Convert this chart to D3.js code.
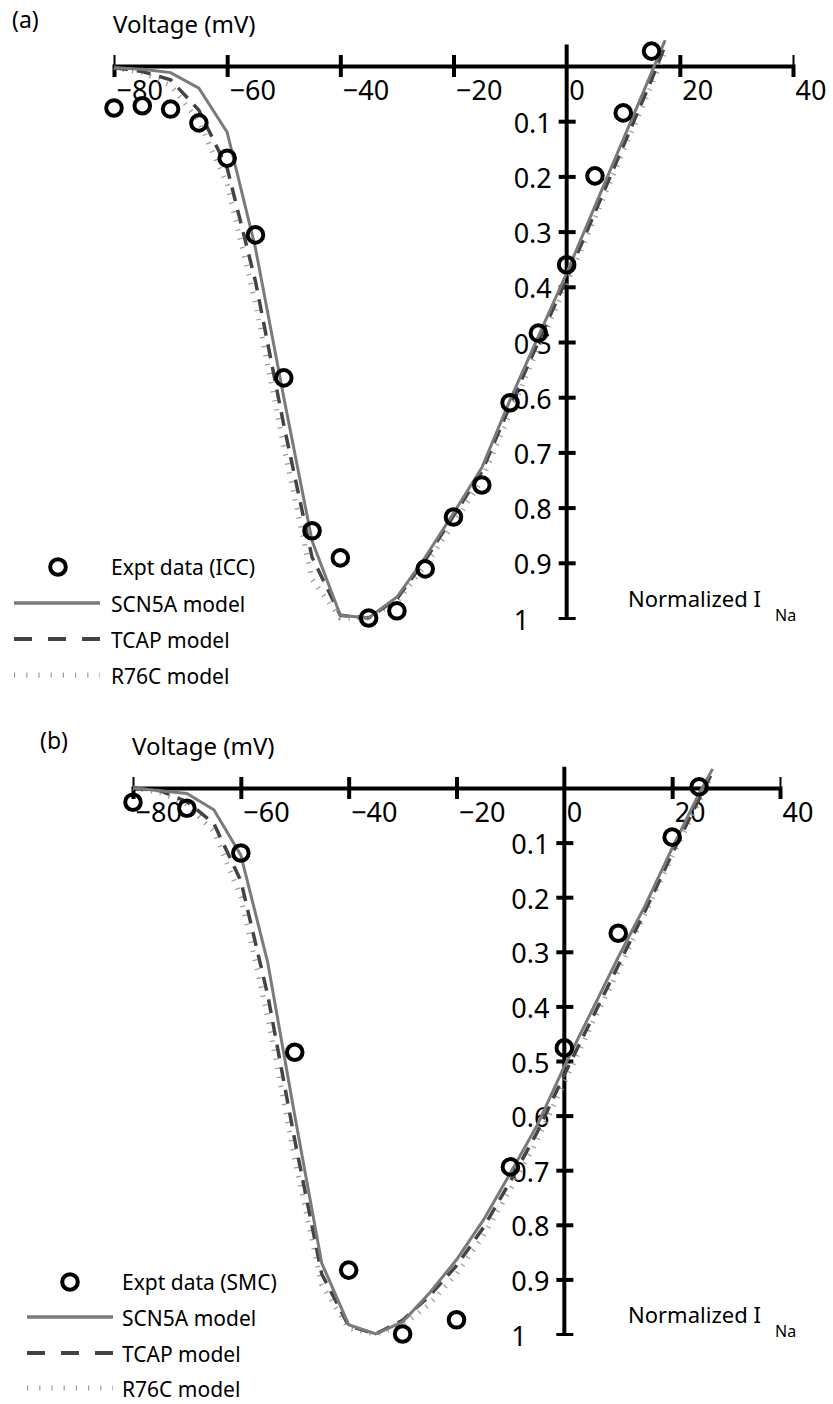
<!DOCTYPE html>
<html>
<head>
<meta charset="utf-8">
<script src="https://cdn.jsdelivr.net/npm/d3@7"></script>
<style>
  body { margin: 0; background: #fff; }
  text { font-family: "Noto Sans", sans-serif; fill: #000; }
</style>
</head>
<body>
<div id="chart"></div>
<script>
// tick values shared by both panels
var xTicks = [-80, -60, -40, -20, 0, 20, 40];
var yTicks = [0.1, 0.2, 0.3, 0.4, 0.5, 0.6, 0.7, 0.8, 0.9, 1];

// panel (a) - ICC
var voltsA = [-80, -75, -70, -65, -60, -55, -50, -45, -40, -35, -30, -25, -20, -15, -10, -5, 0, 5, 10, 15, 17.4];
var scn5aA = [0.003, 0.006, 0.012, 0.04, 0.12, 0.33, 0.6, 0.86, 0.995, 1.0, 0.962, 0.89, 0.81, 0.728, 0.605, 0.49, 0.375, 0.254, 0.133, 0.012, -0.047];
var tcapA  = [0.003, 0.01, 0.025, 0.08, 0.185, 0.39, 0.65, 0.89, 0.995, 1.0, 0.965, 0.895, 0.815, 0.735, 0.615, 0.5, 0.385, 0.265, 0.145, 0.025, -0.037];
var r76cA  = [0.003, 0.012, 0.035, 0.1, 0.215, 0.43, 0.69, 0.93, 1.0, 1.0, 0.97, 0.905, 0.83, 0.75, 0.63, 0.51, 0.395, 0.275, 0.155, 0.035, -0.027];
var exptVoltsA = [-80, -75, -70, -65, -60, -55, -50, -45, -40, -35, -30, -25, -20, -15, -10, -5, 0, 5, 10, 15];
var exptA = [0.076, 0.072, 0.078, 0.103, 0.167, 0.306, 0.565, 0.842, 0.891, 1.0, 0.987, 0.911, 0.817, 0.759, 0.61, 0.484, 0.36, 0.199, 0.085, -0.027];

// panel (b) - SMC
var voltsB = [-80, -75, -70, -65, -60, -55, -50, -45, -40, -35, -30, -25, -20, -15, -10, -5, 0, 5, 10, 15, 20, 25, 27.5];
var scn5aB = [0.0, 0.005, 0.01, 0.04, 0.123, 0.32, 0.6, 0.87, 0.983, 1.0, 0.978, 0.925, 0.864, 0.791, 0.705, 0.617, 0.51, 0.41, 0.31, 0.215, 0.11, 0.01, -0.035];
var tcapB  = [0.0, 0.005, 0.025, 0.065, 0.17, 0.38, 0.645, 0.89, 0.985, 1.0, 0.975, 0.93, 0.875, 0.805, 0.72, 0.63, 0.525, 0.425, 0.325, 0.225, 0.12, 0.02, -0.03];
var r76cB  = [0.0, 0.008, 0.03, 0.08, 0.2, 0.42, 0.68, 0.91, 0.99, 1.0, 0.985, 0.945, 0.89, 0.82, 0.735, 0.645, 0.54, 0.435, 0.335, 0.23, 0.125, 0.025, -0.025];
var exptVoltsB = [-80, -70, -60, -50, -40, -30, -20, -10, 0, 10, 20, 25];
var exptB = [0.026, 0.037, 0.119, 0.484, 0.883, 1.0, 0.974, 0.694, 0.476, 0.266, 0.09, -0.002];

var width = 833, height = 1404;

var svg = d3.select("#chart").append("svg")
    .attr("width", width)
    .attr("height", height);

svg.append("rect").attr("width", width).attr("height", height).attr("fill", "#fff");

function fmtX(d) { return d < 0 ? "\u2212" + Math.abs(d) : String(d); }
function fmtY(d) { return d === 1 ? "1" : d.toFixed(1); }

function drawPanel(p) {
    var x = d3.scaleLinear().domain([-80, 40]).range([p.x0, p.x1]);
    var y = d3.scaleLinear().domain([0, 1]).range([p.y0, p.y1]);
    var g = svg.append("g");

    // panel letter and axis titles
    g.append("text").attr("x", p.letterX).attr("y", p.letterY)
        .attr("font-size", 23).text(p.letter);
    g.append("text").attr("x", x(-80) - 1).attr("y", p.y0 - 33)
        .attr("font-size", 24).text("Voltage (mV)");

    // x axis along the top (zero current line)
    var xAxis = g.append("g")
        .attr("transform", "translate(0," + y(0) + ")")
        .call(d3.axisBottom(x).tickValues(xTicks).tickSizeOuter(0).tickSize(11).tickFormat(fmtX));
    xAxis.select(".domain").attr("stroke", "#000").attr("stroke-width", 4);
    xAxis.selectAll(".tick line")
        .attr("y1", -11).attr("y2", 11)
        .attr("stroke", "#000")
        .attr("stroke-width", function(d) { return (d === -80 || d === 40) ? 2 : 4; })
        .attr("display", function(d) { return d === 0 ? "none" : null; });
    xAxis.selectAll(".tick text")
        .attr("y", 34).attr("dy", null).attr("x", 2)
        .attr("text-anchor", "start")
        .attr("font-size", 27)
        .attr("font-family", "Noto Sans, sans-serif")
        .attr("fill", "#000");

    // y axis at 0 mV
    g.append("line")
        .attr("x1", x(0)).attr("x2", x(0))
        .attr("y1", y(-0.039)).attr("y2", y(1))
        .attr("stroke", "#000").attr("stroke-width", 4);
    var yAxis = g.append("g")
        .attr("transform", "translate(" + x(0) + ",0)")
        .call(d3.axisLeft(y).tickValues(yTicks).tickSizeOuter(0).tickSize(8).tickFormat(fmtY));
    yAxis.select(".domain").remove();
    yAxis.selectAll(".tick line")
        .attr("x1", -8).attr("x2", 9)
        .attr("stroke", "#000").attr("stroke-width", function(d) { return d === 1 ? 3 : 4; });
    yAxis.selectAll(".tick text")
        .attr("x", -53).attr("dy", null).attr("y", 11)
        .attr("text-anchor", "start")
        .attr("font-size", 27)
        .attr("font-family", "Noto Sans, sans-serif")
        .attr("fill", "#000");

    var nl = g.append("text").attr("x", 628).attr("y", y(1) - 11).attr("font-size", 22);
    nl.append("tspan").text("Normalized I");
    nl.append("tspan").attr("x", 775).attr("y", y(1) + 3).attr("font-size", 16).text("Na");

    // model curves
    var line = d3.line()
        .x(function(d) { return x(d[0]); })
        .y(function(d) { return y(d[1]); });

    var series = [
        { vals: p.r76c, color: "#999", w: 5, dash: "1.2,8" },
        { vals: p.tcap, color: "#444", w: 3.5, dash: "14,9" },
        { vals: p.scn5a, color: "#7a7a7a", w: 3, dash: null }
    ];
    series.forEach(function(s) {
        g.append("path")
            .datum(p.volts.map(function(v, i) { return [v, s.vals[i]]; }))
            .attr("d", line)
            .attr("fill", "none")
            .attr("stroke", s.color)
            .attr("stroke-width", s.w)
            .attr("stroke-dasharray", s.dash);
    });

    // experimental points
    g.selectAll(".expt")
        .data(p.exptVolts.map(function(v, i) { return [v, p.expt[i]]; }))
        .enter()
        .append("circle")
        .attr("class", "expt")
        .attr("cx", function(d) { return x(d[0]); })
        .attr("cy", function(d) { return y(d[1]); })
        .attr("r", 7.8)
        .attr("fill", "none")
        .attr("stroke", "#000")
        .attr("stroke-width", 4);

    // legend
    var L = p.legend;
    g.append("circle").attr("cx", L.cx).attr("cy", L.rows[0] - 8).attr("r", 7.8)
        .attr("fill", "none").attr("stroke", "#000").attr("stroke-width", 4);
    var labels = [p.exptLabel, "SCN5A model", "TCAP model", "R76C model"];
    labels.forEach(function(t, i) {
        g.append("text").attr("x", L.tx).attr("y", L.rows[i]).attr("font-size", 21).text(t);
    });
    var legStyles = [
        { color: "#7a7a7a", w: 3.5, dash: null },
        { color: "#444", w: 4, dash: "18,16" },
        { color: "#999", w: 5, dash: "1.2,11" }
    ];
    legStyles.forEach(function(s, i) {
        g.append("line")
            .attr("x1", L.lx0).attr("x2", L.lx1)
            .attr("y1", L.rows[i + 1] - 9).attr("y2", L.rows[i + 1] - 9)
            .attr("stroke", s.color).attr("stroke-width", s.w)
            .attr("stroke-dasharray", s.dash);
    });
}

drawPanel({
    letter: "(a)", letterX: 12, letterY: 28,
    x0: 114, x1: 793, y0: 66, y1: 618,
    volts: voltsA, scn5a: scn5aA, tcap: tcapA, r76c: r76cA,
    exptVolts: exptVoltsA, expt: exptA, exptLabel: "Expt data (ICC)",
    legend: { cx: 58, tx: 111, lx0: 14, lx1: 100, rows: [575, 612, 648, 684] }
});

drawPanel({
    letter: "(b)", letterX: 40, letterY: 749,
    x0: 133, x1: 780, y0: 788, y1: 1334,
    volts: voltsB, scn5a: scn5aB, tcap: tcapB, r76c: r76cB,
    exptVolts: exptVoltsB, expt: exptB, exptLabel: "Expt data (SMC)",
    legend: { cx: 70, tx: 122, lx0: 27, lx1: 113, rows: [1290, 1326, 1362, 1397] }
});
</script>
</body>
</html>
